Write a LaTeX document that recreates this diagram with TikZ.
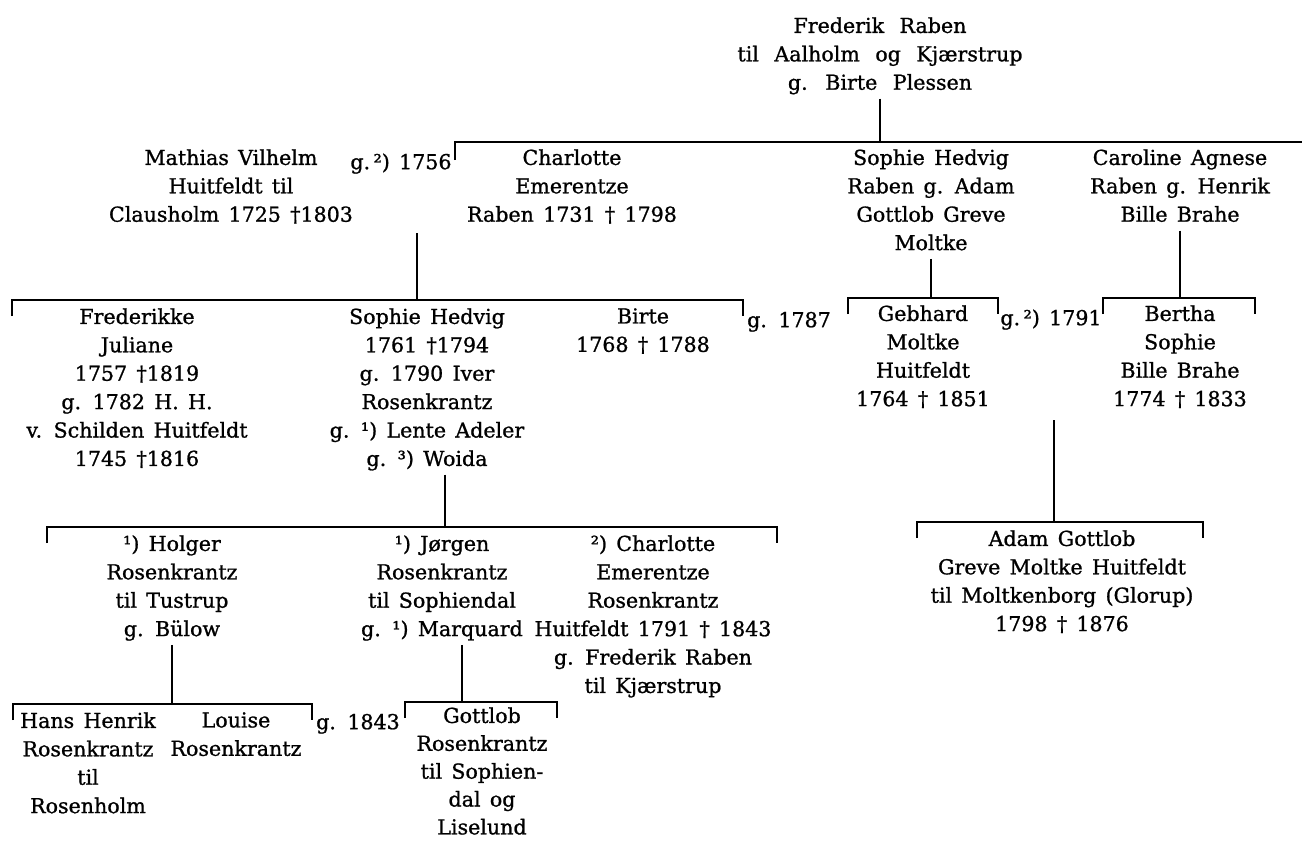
\documentclass[tikz,border=0pt]{standalone}
\usepackage{fontspec}
\setmainfont{DejaVu Serif}[FakeBold=1.0]
\newcommand\pfont{\fontsize{15.45}{21.3}\selectfont\spaceskip=0.45em\relax}
\newcommand\widefont{\fontsize{15.45}{21.3}\selectfont\spaceskip=0.75em\relax}
\begin{document}
\begin{tikzpicture}[x=0.75pt,y=-0.75pt,
  person/.style={align=center, anchor=north, inner sep=0pt, font=\pfont,
    execute at begin node=\strut, execute at end node=\strut},
  lbl/.style={anchor=north, inner sep=0pt, font=\pfont,
    execute at begin node=\strut, execute at end node=\strut},
  bar/.style={line width=2pt, line cap=butt}]
\useasboundingbox (0,0) rectangle (1302,840);

% ---- generation 0
\node[person, font=\widefont] (fr) at (880,17) {Frederik Raben\\til Aalholm og Kjærstrup\\g. Birte Plessen};

% ---- generation 1
\node[person] (mvh) at (231,149) {Mathias Vilhelm\\Huitfeldt til\\Clausholm 1725 †1803};
\node[lbl] (g1756) at (401,149) {g.\,²) 1756};
\node[person] (ce) at (572,149) {Charlotte\\Emerentze\\Raben 1731 † 1798};
\node[person] (shr) at (931,149) {Sophie Hedvig\\Raben g. Adam\\Gottlob Greve\\Moltke};
\node[person] (car) at (1180,149) {Caroline Agnese\\Raben g. Henrik\\Bille Brahe};

% ---- generation 2
\node[person] (fj) at (137,308) {Frederikke\\Juliane\\1757 †1819\\g. 1782 H. H.\\v. Schilden Huitfeldt\\1745 †1816};
\node[person] (sh) at (427,308) {Sophie Hedvig\\1761 †1794\\g. 1790 Iver\\Rosenkrantz\\g. ¹) Lente Adeler\\g. ³) Woida};
\node[person] (bi) at (643,308) {Birte\\1768 † 1788};
\node[lbl] (g1787) at (789,307) {g. 1787};
\node[person] (geb) at (923,305) {Gebhard\\Moltke\\Huitfeldt\\1764 † 1851};
\node[lbl] (g1791) at (1051,305) {g.\,²) 1791};
\node[person] (ber) at (1180,305) {Bertha\\Sophie\\Bille Brahe\\1774 † 1833};

% ---- generation 3
\node[person] (hol) at (172,535) {¹) Holger\\Rosenkrantz\\til Tustrup\\g. Bülow};
\node[person] (jor) at (442,535) {¹) Jørgen\\Rosenkrantz\\til Sophiendal\\g. ¹) Marquard};
\node[person] (ce2) at (653,535) {²) Charlotte\\Emerentze\\Rosenkrantz\\Huitfeldt 1791 † 1843\\g. Frederik Raben\\til Kjærstrup};
\node[person] (agm) at (1062,530) {Adam Gottlob\\Greve Moltke Huitfeldt\\til Moltkenborg (Glorup)\\1798 † 1876};

% ---- generation 4
\node[person] (hh) at (88,712) {Hans Henrik\\Rosenkrantz\\til\\Rosenholm};
\node[person] (lo) at (236,712) {Louise\\Rosenkrantz};
\node[lbl] (g1843) at (358,709) {g. 1843};
\node[person, font={\fontsize{15.45}{20.9}\selectfont\spaceskip=0.45em\relax}] (got) at (482,707) {Gottlob\\Rosenkrantz\\til Sophien-\\dal og\\Liselund};

% ---- bars (with end ticks)
\coordinate (b1l) at (455,142); \coordinate (b1r) at (1302,142);
\coordinate (b2l) at (12,300);  \coordinate (b2r) at (743,300);
\coordinate (b3l) at (848,298); \coordinate (b3r) at (998,298);
\coordinate (b4l) at (1103,298);\coordinate (b4r) at (1255,298);
\coordinate (b5l) at (47,527);  \coordinate (b5r) at (777,527);
\coordinate (b6l) at (917,522); \coordinate (b6r) at (1203,522);
\coordinate (b7l) at (13,704);  \coordinate (b7r) at (312,704);
\coordinate (b8l) at (405,702); \coordinate (b8r) at (557,702);

\draw[bar] ([yshift=-13.5pt]b1l) -- (b1l) -- (b1r);
\foreach \l/\r in {b2l/b2r,b3l/b3r,b4l/b4r,b5l/b5r,b6l/b6r,b7l/b7r,b8l/b8r}
  \draw[bar] ([yshift=-12pt]\l) -- (\l) -- (\r) -- ([yshift=-12pt]\r);

% ---- descent lines
\coordinate (m1) at (417,233);
\coordinate (m2) at (1054,420);
\coordinate (v3) at (445,527);
\coordinate (v8) at (462,702);
\draw[bar] (fr.south) -- (fr.south |- b1l);
\draw[bar] (m1) -- (m1 |- b2l);
\draw[bar] (shr.south) -- (shr.south |- b3l);
\draw[bar] (car.south) -- (car.south |- b4l);
\draw[bar] (sh.south -| v3) -- (v3);
\draw[bar] (m2) -- (m2 |- b6l);
\draw[bar] (hol.south) -- (hol.south |- b7l);
\draw[bar] (jor.south -| v8) -- (v8);
\end{tikzpicture}
\end{document}
